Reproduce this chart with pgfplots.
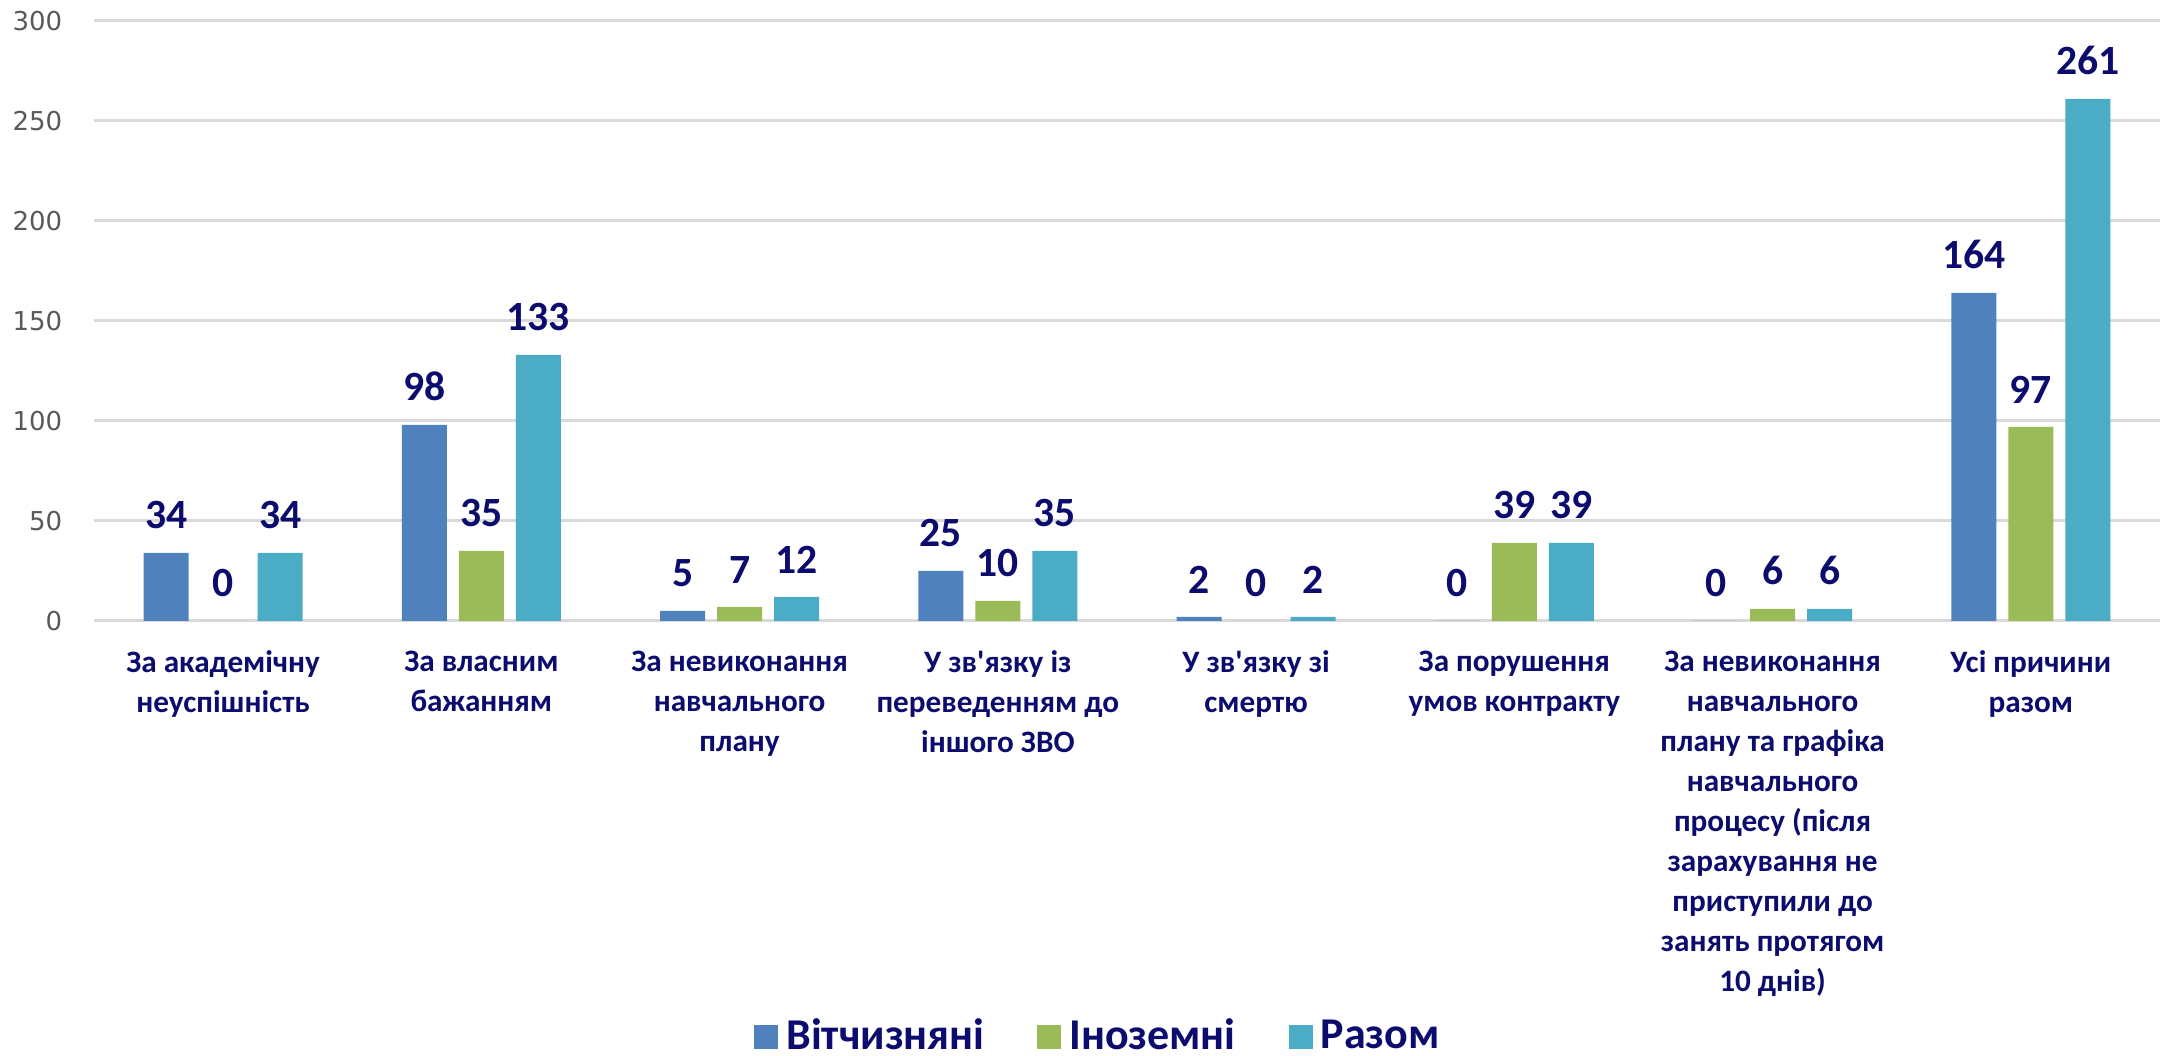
\documentclass[border=0pt]{standalone}
\usepackage{fontspec}
\setmainfont{Carlito}
\newfontfamily\tickfont{DejaVu Sans}
\usepackage{pgfplots}
\pgfplotsset{compat=1.18}

\definecolor{cBlue}{HTML}{4F81BD}
\definecolor{cGreen}{HTML}{9BBB59}
\definecolor{cTeal}{HTML}{4BACC6}
\definecolor{cNavy}{HTML}{0C0C6E}
\definecolor{cGrid}{HTML}{D9D9D9}
\definecolor{cTick}{HTML}{595959}

\begin{document}
\begin{tikzpicture}
\begin{axis}[
  scale only axis, width=516.5pt, height=150pt,
  ybar=3pt, bar width=11.25pt,
  xmin=-0.5, xmax=7.5, ymin=0, ymax=300,
  ytick={0,50,...,300},
  xtick=data,
  xticklabels={
    {За академічну\\неуспішність},
    {За власним\\бажанням},
    {За невиконання\\навчального\\плану},
    {У зв\textquotesingle язку із\\переведенням до\\іншого ЗВО},
    {У зв\textquotesingle язку зі\\смертю},
    {За порушення\\умов контракту},
    {За невиконання\\навчального\\плану та графіка\\навчального\\процесу (після\\зарахування не\\приступили до\\занять протягом\\10 днів)},
    {Усі причини\\разом}},
  axis line style={draw=none},
  major tick length=0pt,
  ymajorgrids, grid style={cGrid, line width=0.75pt},
  /pgf/number format/assume math mode=true,
  yticklabel style={font=\tickfont\fontsize{6.5}{7}\selectfont, text=cTick, inner sep=0pt, xshift=-7.75pt},
  xticklabel style={font=\bfseries\fontsize{7.8}{10}\selectfont, text=cNavy, align=center, inner sep=0pt, yshift=-7.2pt},
  nodes near coords,
  nodes near coords style={font=\bfseries\fontsize{10.4}{12}\selectfont, text=cNavy, anchor=south, inner sep=0pt, yshift=5.75pt},
  legend columns=3,
  legend style={at={(rel axis cs:0.5,0)}, anchor=center, xshift=-6.5pt, yshift=-104pt, draw=none,
    font=\bfseries\fontsize{11}{12}\selectfont, text=cNavy,
    /tikz/every even column/.append style={column sep=11.25pt}},
  legend image code/.code={\fill[#1] (0pt,-3pt) rectangle (6pt,3pt);},
]
\addplot[fill=cBlue, draw=none] coordinates {(0,34) (1,98) (2,5) (3,25) (4,2) (5,0) (6,0) (7,164)};
\addplot[fill=cGreen, draw=none] coordinates {(0,0) (1,35) (2,7) (3,10) (4,0) (5,39) (6,6) (7,97)};
\addplot[fill=cTeal, draw=none] coordinates {(0,34) (1,133) (2,12) (3,35) (4,2) (5,39) (6,6) (7,261)};
\legend{Вітчизняні, Іноземні, Разом}
\end{axis}
\pgfresetboundingbox
\path (-23.5pt,-108.75pt) rectangle (518.5pt,155.25pt);
\end{tikzpicture}
\end{document}
